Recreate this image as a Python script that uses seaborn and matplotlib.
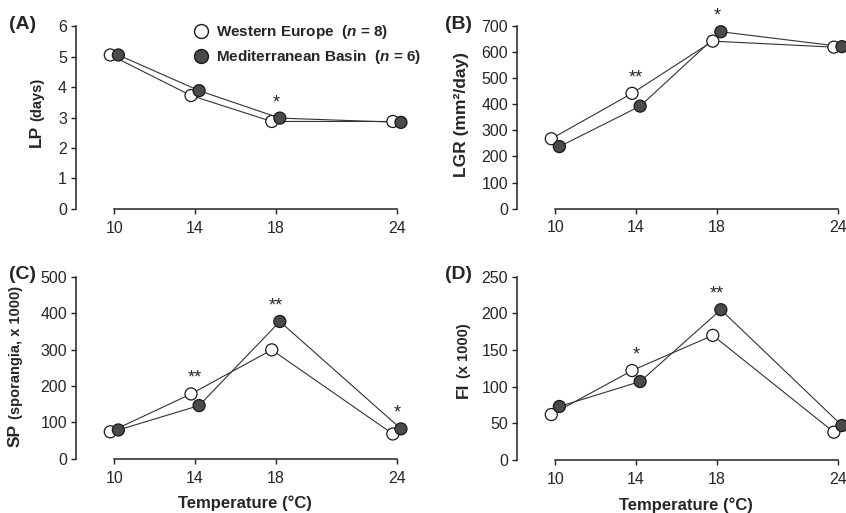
import pandas as pd
import matplotlib
matplotlib.use('Agg')
import matplotlib.pyplot as plt
from matplotlib.lines import Line2D
import seaborn as sns

# temperatures and group means
temps = [10, 14, 18, 24]
regions = ['Western Europe', 'Mediterranean Basin']

lp_we = [5.05, 3.72, 2.87, 2.87]
lp_mb = [5.05, 3.88, 2.98, 2.84]
lgr_we = [268, 442, 642, 619]
lgr_mb = [238, 393, 678, 621]
sp_we = [74, 178, 299, 68]
sp_mb = [79, 146, 377, 82]
fi_we = [62, 122, 170, 38]
fi_mb = [73, 107, 205, 47]

# significance stars: (temperature, label)
stars_lp = [(18, '*')]
stars_lgr = [(14, '**'), (18, '*')]
stars_sp = [(14, '**'), (18, '**'), (24, '*')]
stars_fi = [(14, '*'), (18, '**')]

sns.set_theme(style='ticks')
plt.rcParams['font.family'] = ['Liberation Sans', 'DejaVu Sans']
plt.rcParams['mathtext.fontset'] = 'custom'
plt.rcParams['mathtext.rm'] = 'Liberation Sans:bold'
plt.rcParams['mathtext.it'] = 'Liberation Sans:bold:italic'

line_col = '#333333'
dark_fill = '#4a4a4a'
edge_col = '#1a1a1a'
offsets = {'Western Europe': -0.2, 'Mediterranean Basin': 0.2}
fills = {'Western Europe': 'white', 'Mediterranean Basin': dark_fill}

panels = [
    # tag, we, mb, ymax, ystep, stars, label parts, axes rect, label x, label y0
    ('(A)', lp_we, lp_mb, 6, 1, stars_lp, ('LP', '(days)'),
     [0.0898, 0.5926, 0.3889, 0.3567], -0.097, 0.339),
    ('(B)', lgr_we, lgr_mb, 700, 100, stars_lgr, ('LGR (mm²/day)', ''),
     [0.6111, 0.5932, 0.3889, 0.3561], -0.146, 0.175),
    ('(C)', sp_we, sp_mb, 500, 100, stars_sp, ('SP', '(sporangia, x 1000)'),
     [0.0898, 0.1058, 0.3889, 0.3548], -0.161, 0.066),
    ('(D)', fi_we, fi_mb, 250, 50, stars_fi, ('FI', '(x 1000)'),
     [0.6111, 0.1033, 0.3889, 0.3573], -0.140, 0.339),
]

fig = plt.figure(figsize=(8.46, 5.13), dpi=100)

for i, (tag, we, mb, ymax, ystep, stars, ylab, rect, lx, ly) in enumerate(panels):
    ax = fig.add_axes(rect)
    df = pd.DataFrame({
        'temp': temps * 2,
        'value': we + mb,
        'region': [regions[0]] * 4 + [regions[1]] * 4,
    })
    df['xpos'] = df['temp'] + df['region'].map(offsets)

    sns.lineplot(data=df, x='xpos', y='value', hue='region', ax=ax,
                 palette={r: line_col for r in regions}, linewidth=0.8,
                 sort=False, legend=False, zorder=2)
    sns.scatterplot(data=df, x='xpos', y='value', hue='region', ax=ax,
                    palette=fills, s=75, edgecolor=edge_col, linewidth=0.9,
                    legend=False, zorder=3, clip_on=False)

    ax.set_xlim(8.1, 24.4)
    ax.set_ylim(0, ymax)
    ax.set_xticks(temps)
    ax.set_yticks(range(0, ymax + 1, ystep))
    ax.tick_params(axis='both', labelsize=11.5, direction='out', length=3.5,
                   width=1, color='#222222', pad=3)
    ax.tick_params(axis='x', pad=5)
    sns.despine(ax=ax)
    ax.spines['bottom'].set_bounds(10, 24)
    ax.spines['left'].set_bounds(0, ymax)
    for s in ('left', 'bottom'):
        ax.spines[s].set_linewidth(1.1)
        ax.spines[s].set_color('#222222')
    ax.set_xlabel('')
    ax.set_ylabel('')

    # y label: larger bold abbreviation followed by smaller bold unit
    big = ax.text(lx, ly, ylab[0], transform=ax.transAxes, rotation=90,
                  ha='right', va='bottom', fontsize=12.5, fontweight='bold')
    if ylab[1]:
        ax.annotate(ylab[1], xy=(1, 1), xycoords=big, xytext=(0, 3),
                    textcoords='offset points', rotation=90, ha='right',
                    va='bottom', fontsize=10.5, fontweight='bold')

    # panel tag
    ax.text(-0.205 if i % 2 == 0 else -0.22, 1.01, tag, transform=ax.transAxes,
            fontsize=14, fontweight='bold', ha='left', va='center')

    # significance stars above the higher point
    for t, lab in stars:
        k = temps.index(t)
        top = max(we[k], mb[k])
        ax.annotate(lab, xy=(t, top), xytext=(0, 5), textcoords='offset points',
                    ha='center', va='bottom', fontsize=13, annotation_clip=False)

    if i >= 2:
        ax.text(0.515, -0.245, 'Temperature (°C)', transform=ax.transAxes,
                ha='center', va='center', fontsize=12, fontweight='bold')

    if i == 0:
        handles = [
            Line2D([], [], linestyle='none', marker='o', markersize=10,
                   markerfacecolor='white', markeredgecolor=edge_col),
            Line2D([], [], linestyle='none', marker='o', markersize=10,
                   markerfacecolor=dark_fill, markeredgecolor=edge_col),
        ]
        labels = [r'Western Europe  ($n$ = 8)', r'Mediterranean Basin  ($n$ = 6)']
        leg = ax.legend(handles, labels, loc='upper left',
                        bbox_to_anchor=(0.32, 1.09), frameon=False,
                        handlelength=0.8, handletextpad=0.6, labelspacing=0.45,
                        prop={'weight': 'bold', 'size': 11})

fig.savefig('out.png', dpi=100)
